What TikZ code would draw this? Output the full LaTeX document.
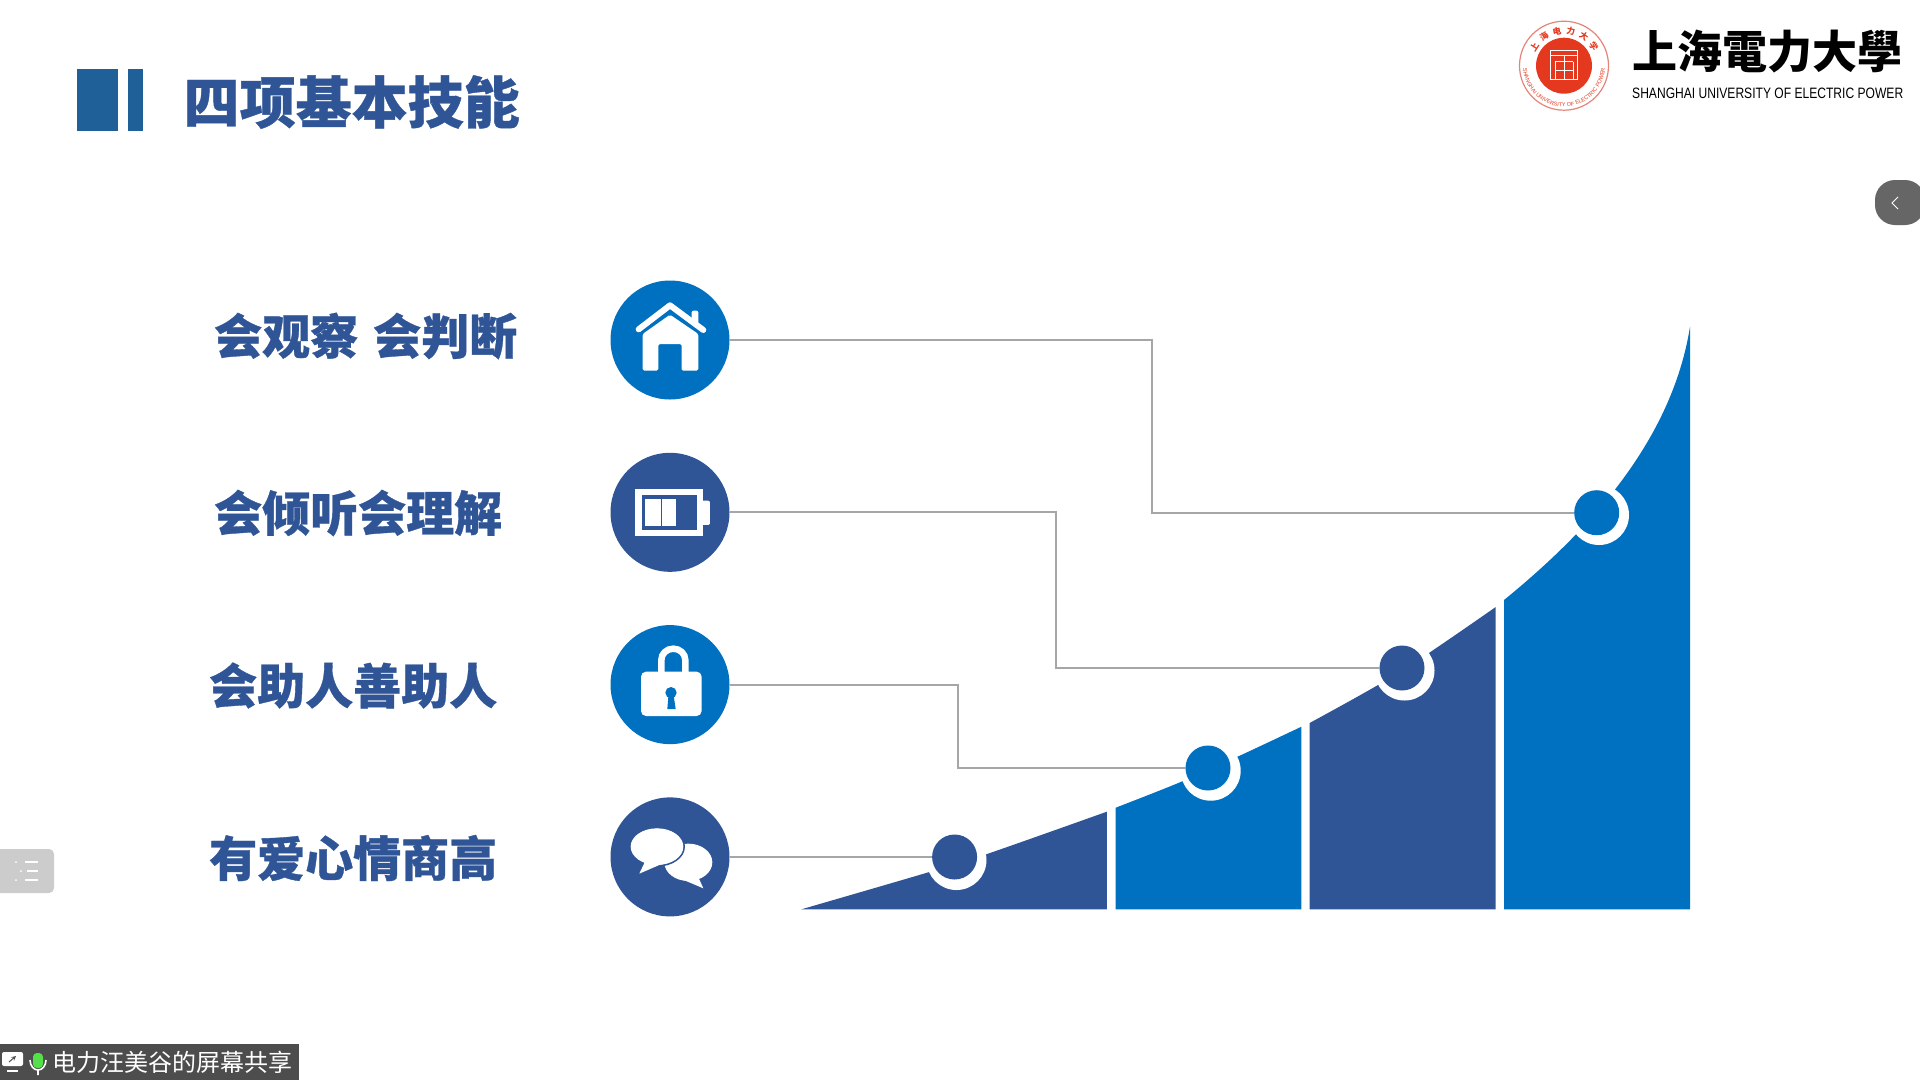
\documentclass[tikz,border=0pt]{standalone}
\usepackage{fontspec}
\usepackage{xcolor}
\usepackage{graphicx}
\usetikzlibrary{positioning, decorations.text, shapes.geometric}
\newfontfamily\cjkfont{Noto Sans CJK SC}
\newfontfamily\cjkheavy[BoldFeatures={FakeBold=0.7}]{Noto Sans CJK SC}
\newfontfamily\latinfont{Liberation Sans}
\definecolor{navy}{HTML}{2F5597}
\definecolor{azure}{HTML}{0070C0}
\definecolor{barblue}{HTML}{1F6098}
\definecolor{wiregray}{HTML}{A6A6A6}
\definecolor{sealred}{HTML}{E5391F}
\definecolor{sealpink}{HTML}{E4857A}
\definecolor{tabgray}{HTML}{666666}
\definecolor{listgray}{HTML}{CCCCCC}
\definecolor{sharebar}{HTML}{4D4D4D}
\definecolor{micgreen}{HTML}{55E04A}

\begin{document}
\begin{tikzpicture}[
    x=1pt, y=-1pt,
    node distance=53.3pt,
    icon/.style={circle, minimum size=119pt, inner sep=0pt, outer sep=0pt},
    skill/.style={anchor=west, inner sep=0pt, text=navy, font=\fontsize{48}{52}\cjkheavy\bfseries},
    ring/.style={circle, fill=white, minimum size=60pt, inner sep=0pt, outer sep=0pt},
    dot/.style={circle, minimum size=45pt, inner sep=0pt, outer sep=0pt},
    wire/.style={wiregray, line width=2pt},
    zoomed/.style 2 args={shift={(#1,#2)}, x=0.3333pt, y=-0.3333pt}
  ]
    \useasboundingbox (0,0) rectangle (1920,1080);
    \fill[white] (0,0) rectangle (1920,1080);

    % title
    \fill[barblue] (77,69) rectangle (118,131);
    \fill[barblue] (128,69) rectangle (143,131);
    \node[anchor=west, inner sep=0pt, text=navy, font=\fontsize{56}{60}\cjkheavy\bfseries] (title) at (183.5,102) {四项基本技能};

    % rising bars
    \fill[navy] plot[smooth] coordinates {(801.4,909.3) (926,873) (987,854) (1106.8,811.7)} -- (1106.8,909.3) -- cycle;
    \fill[azure] plot[smooth] coordinates {(1115.7,807.7) (1179,782.7) (1239,756) (1301.4,726.7)} -- (1301.4,909.3) -- (1115.7,909.3) -- cycle;
    \fill[navy] plot[smooth] coordinates {(1309.6,723) (1400,672) (1495.7,607)} -- (1495.7,909.3) -- (1309.6,909.3) -- cycle;
    \fill[azure] (1504,600) .. controls (1590,530) and (1672,440) .. (1690,326.7) -- (1690,909.3) -- (1504,909.3) -- cycle;

    \node[ring] (ringD) at (956.5,860) {};
    \node[ring] (ringC) at (1210.7,770.7) {};
    \node[ring] (ringB) at (1404.5,670.5) {};
    \node[ring] (ringA) at (1599,515) {};
    \node[dot, fill=navy] (dotD) at (954.6,857) {};
    \node[dot, fill=azure] (dotC) at (1208,768) {};
    \node[dot, fill=navy] (dotB) at (1402,668) {};
    \node[dot, fill=azure] (dotA) at (1596.7,512.7) {};

    % icons and labels
    \node[icon, fill=azure] (iconA) at (670,340) {};
    \node[icon, fill=navy, below=of iconA] (iconB) {};
    \node[icon, fill=azure, below=of iconB] (iconC) {};
    \node[icon, fill=navy, below=of iconC] (iconD) {};

    \node[skill] (labelA) at (214,336) {会观察\hspace{15pt}会判断};
    \node[skill] (labelB) at (214,513) {会倾听会理解};
    \node[skill] (labelC) at (209,685.5) {会助人善助人};
    \node[skill] (labelD) at (209,858) {有爱心情商高};

    % wires
    \coordinate (bendA) at (1151.5,340);
    \coordinate (bendB) at (1055.5,512.3);
    \coordinate (bendC) at (957.7,684.6);
    \draw[wire] (iconA) -- (bendA) |- (dotA);
    \draw[wire] (iconB) -- (bendB) |- (dotB);
    \draw[wire] (iconC) -- (bendC) |- (dotC);
    \draw[wire] (iconD) -- (iconD -| dotD.west);

    % house
    \begin{scope}[zoomed={590}{270}]
      \fill[white, rounded corners=2pt] (305,122) rectangle (325,170);
      \fill[azure] (298,150) -- (240,108) -- (150,172) -- (160,190) -- (240,130) -- (335,195) -- (342,170) -- cycle;
      \fill[white, rounded corners=1.5pt] (240,134) -- (158,192) -- (158,302) -- (205,302) -- (205,222) -- (275,222) -- (275,302) -- (325,302) -- (325,192) -- cycle;
      \draw[white, line width=6pt, line cap=round, line join=round] (146,178) -- (240,106) -- (340,180);
    \end{scope}
    % battery
    \begin{scope}[zoomed={590}{270}]
      \fill[white] (135,657) rectangle (338,797);
      \fill[navy] (155,676) rectangle (322,780);
      \fill[white] (164,686) rectangle (212,768);
      \fill[white] (217,686) rectangle (258,768);
      \fill[white, rounded corners=2pt] (330,692) -- (360,692) -- (360,765) -- (330,765) -- cycle;
    \end{scope}
    % lock
    \begin{scope}[zoomed={590}{610}]
      \draw[white, line width=6.5pt] (214,190) -- (214,150) arc[start angle=180, end angle=360, x radius=36, y radius=34] -- (286,190);
      \fill[white, rounded corners=5pt] (153,185) rectangle (335,318);
      \fill[azure] (243,248) circle[radius=17];
      \fill[azure] (236,250) -- (232,297) -- (257,297) -- (250,250) -- cycle;
    \end{scope}
    % speech bubbles
    \begin{scope}[zoomed={590}{610}]
      \fill[white] (295,757) ellipse[x radius=72, y radius=56];
      \fill[white] (322,795) -- (340,835) -- (262,802) -- cycle;
      \fill[white, draw=navy, line width=2pt] (201,710) ellipse[x radius=81, y radius=57];
      \fill[white] (201,710) ellipse[x radius=79, y radius=55];
      \fill[white] (165,755) -- (148,791) -- (215,762) -- cycle;
    \end{scope}

    % logo
    \draw[sealpink, line width=1.2pt] (1564,65.7) circle[radius=44.5];
    \fill[sealred] (1564,65.7) circle[radius=28];
    \begin{scope}[zoomed={1480}{0}]
      \draw[white, line width=1pt] (212,150) rectangle (293,238);
      \draw[white, line width=0.9pt] (212,165) -- (293,165) (225,185) -- (280,185) (225,210) -- (280,210) (225,185) -- (225,238) (252,165) -- (252,238) (280,185) -- (280,238);
    \end{scope}
    \path[decorate, decoration={text along path, text align={fit to path}, text={|\fontsize{8.5}{9}\cjkfont\bfseries\color{sealred}|上海电力大学}}]
      (1564,65.7) ++(205:32) arc[start angle=205, end angle=335, radius=32];
    \path[decorate, decoration={text along path, text align=center, text={|\fontsize{5.5}{6}\latinfont\color{sealred}|SHANGHAI UNIVERSITY OF ELECTRIC POWER}}]
      (1564,65.7) ++(175:41) arc[start angle=175, end angle=5, radius=41];
    \node[anchor=west, inner sep=0pt, text=black, font=\fontsize{45}{48}\cjkfont\bfseries] (logoname) at (1632,52) {上海電力大學};
    \node[anchor=west, inner sep=0pt, text=black, font=\latinfont] (logoline) at (1632,93) {\resizebox{271pt}{10.5pt}{SHANGHAI UNIVERSITY OF ELECTRIC POWER}};

    % side tabs
    \fill[tabgray, rounded corners=20pt] (1925,180) -- (1875,180) -- (1875,225) -- (1925,225) -- cycle;
    \draw[white, line width=1pt] (1898,197) -- (1892,203) -- (1898,209);
    \fill[listgray, rounded corners=5pt] (-8,849) rectangle (54,893);
    \draw[white, line width=1.6pt] (25,862) -- (38,862) (27,871) -- (38,871) (25,880) -- (38,880);
    \fill[white] (16,862) circle[radius=1] (21,871) circle[radius=1] (16,880) circle[radius=1];

    % sharing bar
    \fill[sharebar] (0,1044) rectangle (299,1080);
    \fill[white, rounded corners=2pt] (2,1052) rectangle (23,1066);
    \fill[white] (7,1070) rectangle (18,1072);
    \draw[sharebar, line width=1pt, -stealth] (9,1062) -- (16,1056);
    \draw[white, line width=1.6pt] (30,1060) arc[start angle=180, end angle=0, x radius=8, y radius=10] (38,1070) -- (38,1075);
    \fill[micgreen, rounded corners=4pt] (33,1053) rectangle (43,1068);
    \node[anchor=west, inner sep=0pt, text=white, font=\fontsize{24}{26}\cjkfont] (sharetext) at (52,1062) {电力汪美谷的屏幕共享};
  \end{tikzpicture}
\end{document}
